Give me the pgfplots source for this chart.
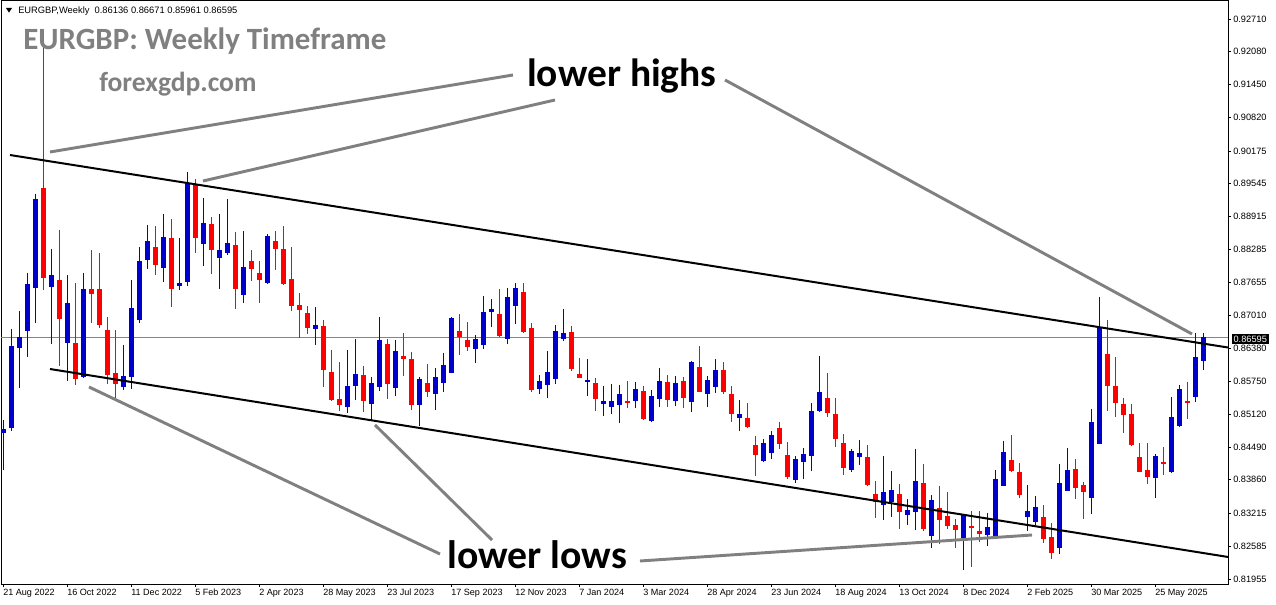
\documentclass[border=0pt]{standalone}
\usepackage{pgfplots}
\pgfplotsset{compat=1.18}
\usepackage{pgfplotstable}
\usepackage{fontspec}
\setmainfont{Liberation Sans}
\newfontfamily\calibri{Carlito}
\definecolor{mtblue}{RGB}{0,0,205}
\definecolor{mtred}{RGB}{255,0,0}
\definecolor{annogray}{RGB}{128,128,128}
\definecolor{pricegray}{RGB}{119,136,153}

\pgfplotstableread{
x o h l c
0 0.84759 0.85009 0.84049 0.84836
1 0.84855 0.86757 0.84798 0.86430
2 0.86392 0.87102 0.85623 0.86603
3 0.86718 0.87832 0.86219 0.87621
4 0.87544 0.89349 0.86872 0.89253
6 0.87563 0.88293 0.86468 0.87794
8 0.86488 0.87794 0.85758 0.87256
10 0.85835 0.87832 0.85816 0.87525
15 0.85643 0.86449 0.85585 0.85854
16 0.85835 0.87698 0.85604 0.87160
17 0.86929 0.88331 0.86872 0.88063
18 0.88082 0.88754 0.87909 0.88447
20 0.87928 0.88965 0.87659 0.88523
22 0.87582 0.88504 0.87506 0.87640
23 0.87659 0.89772 0.87582 0.89541
25 0.88389 0.89272 0.87966 0.88792
27 0.88120 0.88965 0.87525 0.88274
28 0.88216 0.89253 0.88178 0.88408
30 0.87410 0.88639 0.87256 0.87947
33 0.87640 0.88581 0.87621 0.88543
39 0.86757 0.87179 0.86449 0.86833
43 0.85259 0.86353 0.85143 0.85662
44 0.85662 0.86564 0.85393 0.85892
46 0.85316 0.85835 0.85009 0.85720
47 0.85643 0.86987 0.85566 0.86545
49 0.85623 0.86545 0.85470 0.86334
52 0.85297 0.85835 0.84894 0.85796
54 0.85508 0.86008 0.85201 0.85835
55 0.85720 0.86296 0.85547 0.86065
56 0.85911 0.86987 0.85911 0.86968
59 0.86372 0.86641 0.86104 0.86564
60 0.86449 0.87390 0.86372 0.87083
61 0.87083 0.87333 0.86795 0.87141
63 0.86564 0.87544 0.86468 0.87371
64 0.87198 0.87640 0.86853 0.87544
67 0.85604 0.85873 0.85508 0.85758
68 0.85681 0.86334 0.85431 0.85931
69 0.85796 0.86833 0.85700 0.86718
70 0.86564 0.87141 0.86526 0.86680
73 0.85739 0.86180 0.85470 0.85777
75 0.85316 0.85662 0.85086 0.85374
76 0.85259 0.85700 0.85124 0.85374
77 0.85297 0.85681 0.84951 0.85508
79 0.85374 0.85739 0.85239 0.85604
81 0.84990 0.85585 0.84970 0.85470
82 0.85412 0.86008 0.85259 0.85758
84 0.85374 0.85854 0.85278 0.85720
86 0.85355 0.86142 0.85163 0.86123
88 0.85508 0.85854 0.85259 0.85777
89 0.85643 0.86180 0.85527 0.85969
92 0.85047 0.85393 0.84798 0.85124
95 0.84222 0.84644 0.84202 0.84567
96 0.84375 0.84798 0.84260 0.84721
99 0.83857 0.84318 0.83799 0.84260
100 0.84202 0.84471 0.83876 0.84356
101 0.84318 0.85335 0.84029 0.85182
102 0.85182 0.86238 0.85163 0.85547
106 0.84049 0.84452 0.84010 0.84414
107 0.84298 0.84625 0.84145 0.84375
110 0.83376 0.84318 0.83088 0.83626
111 0.83434 0.84029 0.83146 0.83665
113 0.83184 0.83492 0.82992 0.83280
114 0.83242 0.84452 0.82896 0.83837
116 0.82781 0.83568 0.82551 0.83472
120 0.82743 0.83184 0.82128 0.83184
123 0.82800 0.83223 0.82589 0.82954
124 0.82762 0.84049 0.82762 0.83876
125 0.83741 0.84606 0.83741 0.84394
128 0.83146 0.83761 0.82877 0.83261
129 0.83050 0.83549 0.82992 0.83338
132 0.82551 0.84164 0.82435 0.83799
133 0.83645 0.84471 0.83645 0.84049
136 0.83511 0.85220 0.83204 0.84970
137 0.84548 0.87371 0.84548 0.86795
144 0.83895 0.84356 0.83511 0.84318
146 0.84010 0.85451 0.83991 0.85067
147 0.84894 0.85681 0.84874 0.85604
149 0.85451 0.86680 0.85355 0.86219
150 0.86136 0.86671 0.85961 0.86595
}\bull

\pgfplotstableread{
x o h l c
5 0.89465 0.92499 0.87506 0.87736
7 0.87698 0.88658 0.86046 0.86949
9 0.86488 0.87640 0.85681 0.85796
11 0.87525 0.88274 0.86872 0.87429
12 0.87525 0.88216 0.86776 0.86833
13 0.86737 0.86987 0.85700 0.85873
14 0.85911 0.86737 0.85431 0.85700
19 0.88331 0.88735 0.87794 0.87986
21 0.88504 0.88869 0.87179 0.87525
24 0.89541 0.89637 0.88216 0.88504
26 0.88773 0.88908 0.87813 0.88274
29 0.88370 0.88619 0.87141 0.87525
31 0.88063 0.88274 0.87678 0.87909
32 0.87832 0.88063 0.87256 0.87698
34 0.88447 0.88639 0.87890 0.88293
35 0.88293 0.88735 0.87602 0.87621
36 0.87717 0.88331 0.87102 0.87198
37 0.87218 0.87448 0.86584 0.87121
38 0.87064 0.87198 0.86661 0.86776
40 0.86814 0.86929 0.85643 0.85969
41 0.85931 0.86353 0.85374 0.85393
42 0.85412 0.86123 0.85182 0.85297
45 0.85873 0.86046 0.85163 0.85374
48 0.86468 0.86564 0.85412 0.85700
50 0.86238 0.86680 0.85854 0.86180
51 0.86180 0.86315 0.85201 0.85297
53 0.85720 0.86084 0.85451 0.85547
57 0.86718 0.87045 0.86257 0.86603
58 0.86545 0.86891 0.86334 0.86411
62 0.87045 0.87525 0.86603 0.86622
65 0.87467 0.87640 0.86680 0.86699
66 0.86776 0.86872 0.85547 0.85585
71 0.86699 0.86814 0.85950 0.85988
72 0.85892 0.86200 0.85816 0.85816
74 0.85720 0.85816 0.85182 0.85412
78 0.85374 0.85758 0.85239 0.85355
80 0.85566 0.85662 0.85009 0.85028
83 0.85739 0.85873 0.85259 0.85393
85 0.85758 0.85835 0.85239 0.85431
87 0.86027 0.86430 0.85547 0.85547
90 0.85969 0.86123 0.85508 0.85547
91 0.85508 0.85662 0.84970 0.85124
93 0.85047 0.85335 0.84855 0.84874
94 0.84529 0.84702 0.83933 0.84337
97 0.84855 0.84970 0.84452 0.84548
98 0.84337 0.84586 0.83876 0.83914
103 0.85431 0.85911 0.85067 0.85143
104 0.85124 0.85431 0.84490 0.84644
105 0.84567 0.84740 0.83953 0.84087
108 0.84298 0.84529 0.83741 0.83761
109 0.83588 0.83837 0.83127 0.83434
112 0.83588 0.83780 0.82916 0.83242
115 0.83799 0.84164 0.82877 0.82916
117 0.83319 0.83741 0.82627 0.83088
118 0.83165 0.83626 0.82916 0.82973
119 0.82992 0.83108 0.82551 0.82896
121 0.82973 0.83261 0.82186 0.82935
122 0.82877 0.83261 0.82666 0.82820
126 0.84241 0.84721 0.84010 0.84029
127 0.84010 0.84183 0.83511 0.83568
130 0.83146 0.83376 0.82647 0.82724
131 0.82762 0.83031 0.82339 0.82455
134 0.84068 0.84260 0.83492 0.83703
135 0.83761 0.83818 0.83108 0.83626
138 0.86276 0.86929 0.85182 0.85662
139 0.85662 0.86219 0.85067 0.85335
140 0.85316 0.85431 0.84759 0.85105
141 0.85124 0.85316 0.84510 0.84529
142 0.84298 0.84567 0.84010 0.84010
143 0.84049 0.84567 0.83780 0.83914
145 0.84202 0.84490 0.83953 0.84183
148 0.85374 0.85739 0.85028 0.85335
}\bear

\begin{document}
\begin{tikzpicture}
\path[use as bounding box] (0,0) rectangle (957pt,453pt);
\begin{axis}[
  at={(0.75pt,15pt)}, anchor=south west,
  scale only axis, width=920.25pt, height=437.25pt,
  xmin=-0.25, xmax=153.125, ymin=0.81859, ymax=0.93056,
  axis line style={line width=0.75pt, black},
  xtick={0,8,...,144},
  xticklabels={21 Aug 2022,16 Oct 2022,11 Dec 2022,5 Feb 2023,2 Apr 2023,28 May 2023,23 Jul 2023,17 Sep 2023,12 Nov 2023,7 Jan 2024,3 Mar 2024,28 Apr 2024,23 Jun 2024,18 Aug 2024,13 Oct 2024,8 Dec 2024,2 Feb 2025,30 Mar 2025,25 May 2025},
  ytick={0.81955,0.82585,0.83215,0.83860,0.84490,0.85120,0.85750,0.86380,0.87010,0.87655,0.88285,0.88915,0.89545,0.90175,0.90820,0.91450,0.92080,0.92710},
  yticklabels={0.81955,0.82585,0.83215,0.83860,0.84490,0.85120,0.85750,0.86380,0.87010,0.87655,0.88285,0.88915,0.89545,0.90175,0.90820,0.91450,0.92080,0.92710},
  xtick pos=left, ytick pos=right, yticklabel pos=right,
  tick align=outside, major tick length=2.25pt,
  tick style={black, line width=0.75pt},
  xticklabel style={anchor=north west, inner sep=0pt, yshift=-1.5pt, font=\fontsize{6.8}{8}\selectfont},
  yticklabel style={anchor=west, inner sep=0pt, xshift=1.5pt, font=\fontsize{6.9}{8}\selectfont},
  clip=true,
]
% current price line
\addplot[pricegray, line width=0.75pt, forget plot] coordinates {(-0.25,0.86595) (153.125,0.86595)};
% wicks
\addplot[draw=none, mark=none, forget plot,
  error bars/.cd, y dir=both, y explicit, error mark=none,
  error bar style={draw=mtblue, line width=0.75pt}]
  table[x=x, y expr={(\thisrow{h}+\thisrow{l})/2}, y error expr={(\thisrow{h}-\thisrow{l})/2}] {\bull};
\addplot[draw=none, mark=none, forget plot,
  error bars/.cd, y dir=both, y explicit, error mark=none,
  error bar style={draw=mtred, line width=0.75pt}]
  table[x=x, y expr={(\thisrow{h}+\thisrow{l})/2}, y error expr={(\thisrow{h}-\thisrow{l})/2}] {\bear};
% bodies
\addplot[draw=none, mark=none, forget plot,
  error bars/.cd, y dir=both, y explicit, error mark=none,
  error bar style={draw=mtblue, line width=3.75pt}]
  table[x=x, y expr={(\thisrow{o}+\thisrow{c})/2}, y error expr={max(abs(\thisrow{o}-\thisrow{c})/2,0.0001)}] {\bull};
\addplot[draw=none, mark=none, forget plot,
  error bars/.cd, y dir=both, y explicit, error mark=none,
  error bar style={draw=mtred, line width=3.75pt}]
  table[x=x, y expr={(\thisrow{o}+\thisrow{c})/2}, y error expr={max(abs(\thisrow{o}-\thisrow{c})/2,0.0001)}] {\bear};
% channel trendlines
\addplot[black, line width=1.5pt, forget plot] coordinates {(0.875,0.90098) (153.125,0.86401)};
\addplot[black, line width=1.5pt, forget plot] coordinates {(5.875,0.85988) (153.125,0.82378)};
% annotation pointers
\addplot[annogray, line width=2.2pt, forget plot] coordinates {(5.875,0.90156) (63.75,0.91635)};
\addplot[annogray, line width=2.2pt, forget plot] coordinates {(25,0.89599) (69,0.91155)};
\addplot[annogray, line width=2.2pt, forget plot] coordinates {(90.25,0.91539) (148.625,0.86661)};
\addplot[annogray, line width=2.2pt, forget plot] coordinates {(10.75,0.85643) (54.625,0.82435)};
\addplot[annogray, line width=2.2pt, forget plot] coordinates {(46.5,0.84913) (61.125,0.82704)};
\addplot[annogray, line width=2.2pt, forget plot] coordinates {(79.625,0.82301) (128.625,0.82800)};
\end{axis}
% header
\fill[black] (4.5pt,447pt) -- (9pt,447pt) -- (6.75pt,443.5pt) -- cycle;
\node[anchor=base west, inner sep=0pt, font=\fontsize{7}{8}\selectfont] at (13.5pt,442.5pt) {EURGBP,Weekly\ \ 0.86136 0.86671 0.85961 0.86595};
% titles
\node[anchor=base west, inner sep=0pt, text=annogray, font=\calibri\bfseries\fontsize{23.2}{26}\selectfont] at (17.25pt,415.5pt) {EURGBP: Weekly Timeframe};
\node[anchor=base west, inner sep=0pt, text=annogray, font=\calibri\bfseries\fontsize{20.7}{24}\selectfont] at (74.25pt,384pt) {forexgdp.com};
\node[anchor=base west, inner sep=0pt, text=black, font=\calibri\bfseries\fontsize{29.6}{32}\selectfont] at (395.25pt,387.75pt) {lower highs};
\node[anchor=base west, inner sep=0pt, text=black, font=\calibri\bfseries\fontsize{29.8}{32}\selectfont] at (335.25pt,27pt) {lower lows};
% current price tag
\node[anchor=west, fill=black, text=white, inner xsep=1.5pt, inner ysep=1.2pt, font=\fontsize{6.9}{8}\selectfont] at (923.5pt,198.75pt) {0.86595};
\end{tikzpicture}
\end{document}
